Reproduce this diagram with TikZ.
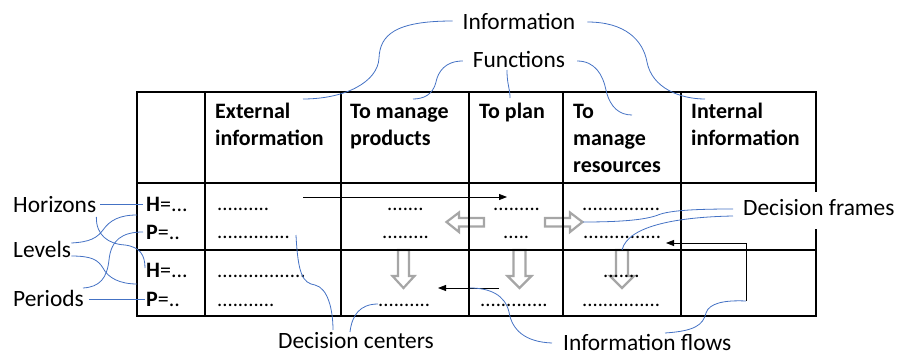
\documentclass[tikz,border=0pt]{standalone}
\usepackage{fontspec}
\setmainfont{Carlito}
\usetikzlibrary{arrows.meta}

\definecolor{calloutblue}{HTML}{4472C4}
\definecolor{flowgray}{HTML}{A6A6A6}

\begin{document}
\begin{tikzpicture}[x=1pt,y=-1pt,
  grid/.style={line width=1.6pt, black, line cap=rect},
  head/.style={font=\fontsize{22}{27}\selectfont\bfseries, align=left, anchor=north west, inner sep=0pt},
  lab/.style={font=\fontsize{23.4}{28}\selectfont, anchor=base west, inner sep=0pt},
  rowlab/.style={font=\fontsize{22}{27}\selectfont, anchor=base west, inner sep=0pt},
  dotrow/.style={font=\fontsize{20.6}{24}\selectfont, anchor=base west, inner sep=0pt},
  callout/.style={draw=calloutblue, line width=0.8pt},
  infoflow/.style={draw=black, line width=0.8pt, -{Triangle[length=8pt,width=6pt]}},
  blockarrow/.style={draw=flowgray, line width=2.2pt, fill=white, line join=miter},
]
\useasboundingbox (0,0) rectangle (898,356);

% hollow arrows between decision centres
\draw[blockarrow] (446.5,222) -- (459,212.5) -- (459,218) -- (484,218) -- (484,226.5) -- (459,226.5) -- (459,232) -- cycle;
\draw[blockarrow] (582.5,222) -- (570,212.5) -- (570,218) -- (545,218) -- (545,226.5) -- (570,226.5) -- (570,232) -- cycle;
\draw[blockarrow] (398,250) -- (398,276) -- (392.5,276) -- (403.5,288) -- (414.5,276) -- (409,276) -- (409,250) -- cycle;
\draw[blockarrow] (513.5,250) -- (513.5,276) -- (507.5,276) -- (519.5,288) -- (531.5,276) -- (525.5,276) -- (525.5,250) -- cycle;
\draw[blockarrow] (616,250) -- (616,276) -- (610,276) -- (622,288) -- (634,276) -- (628,276) -- (628,250) -- cycle;

% grid
\draw[grid] (137,92) rectangle (816,316);
\foreach \cx in {205,341,469,563,681} \draw[grid] (\cx,92) -- (\cx,316);
\draw[grid] (137,183) -- (816,183);
\draw[grid] (137,250) -- (816,250);

% column headings
\node[head] (hext) at (215,99.1) {\strut External\\\strut information};
\node[head] (hprod) at (350,99.1) {\strut To manage\\\strut products};
\node[head] (hplan) at (479,99.1) {\strut To plan};
\node[head] (hres) at (573,99.1) {\strut To\\\strut manage\\\strut resources};
\node[head] (hint) at (691,99.1) {\strut Internal\\\strut information};

% level rows
\node[rowlab] (h1) at (146,211) {\textbf{H}=...};
\node[rowlab] (p1) at (146,239) {\textbf{P}=..};
\node[rowlab] (h2) at (146,277) {\textbf{H}=...};
\node[rowlab] (p2) at (146,306) {\textbf{P}=..};

% decision centres
\node[dotrow] (d11) at (217,210) {..........};
\node[dotrow] (d12) at (387,210) {.......};
\node[dotrow] (d13) at (493,210) {.........};
\node[dotrow] (d14) at (582,210) {...............};
\node[dotrow] (d21) at (217,238) {..............};
\node[dotrow] (d22) at (382,238) {.........};
\node[dotrow] (d23) at (503,238) {.....};
\node[dotrow] (d24) at (583,238) {...............};
\node[dotrow] (d31) at (217,277) {.................};
\node[dotrow] (d34) at (603,277) {.......};
\node[dotrow] (d41) at (217,306) {...........};
\node[dotrow] (d42) at (378,306) {..........};
\node[dotrow] (d43) at (480,306) {.............};
\node[dotrow] (d44) at (582,306) {...............};

% information flows
\coordinate (fa1s) at (303,197);
\coordinate (fa1e) at (507,197);
\coordinate (fa2s) at (499,288);
\coordinate (fa2e) at (438,288);
\coordinate (fa3s) at (746,301);
\coordinate (fa3e) at (666,243);
\draw[infoflow] (fa1s) -- (fa1e);
\draw[infoflow] (fa2s) -- (fa2e);
\draw[infoflow] (fa3s) |- (fa3e);

% callout labels
\node[lab, anchor=base] (info) at (519,29) {Information};
\node[lab, anchor=base] (func) at (519,67) {Functions};
\node[lab] (hor) at (13,212) {Horizons};
\node[lab] (lev) at (13,257) {Levels};
\node[lab] (per) at (13,306) {Periods};
\node[lab] (dc) at (278,348) {Decision centers};
\node[lab] (ifl) at (563,350) {Information flows};

% callout targets
\coordinate (t-ext) at (303,99);
\coordinate (t-int) at (705,99);
\coordinate (t-prod) at (413,99);
\coordinate (t-plan) at (510,98);
\coordinate (t-res) at (632,115);
\coordinate (t-h1) at (143,204);
\coordinate (t-h2) at (145,268);
\coordinate (t-l1) at (137,215);
\coordinate (t-l2) at (137,284);
\coordinate (t-p1) at (143,232);
\coordinate (t-p2) at (145,299);
\coordinate (t-df1) at (583,222);
\coordinate (t-df2) at (622,250);
\coordinate (t-dc1) at (296,235);
\coordinate (t-dc2) at (378,304);
\coordinate (t-if1) at (470,288);

% callout curves
\draw[callout] ([shift={(-10,-8)}]info.base west) .. controls (395,21) and (380,35) .. (379,58)
  .. controls (378,82) and (345,99) .. (t-ext);
\draw[callout] ([shift={(12,-7)}]info.base east) .. controls (625,22) and (643,40) .. (647,62)
  .. controls (652,88) and (680,99) .. (t-int);
\draw[callout] ([shift={(-10,-6)}]func.base west) .. controls (445,61) and (438,72) .. (436,82)
  .. controls (433,95) and (423,99) .. (t-prod);
\draw[callout] ([shift={(-12,3)}]func.base) .. controls (507,85) and (510,88) .. (t-plan);
\draw[callout] ([shift={(12,-6)}]func.base east) .. controls (595,61) and (603,75) .. (606,90)
  .. controls (610,108) and (620,115) .. (t-res);

\draw[callout] ([shift={(4,-8)}]hor.base east) -- (t-h1);
\draw[callout] ([shift={(0,5)}]hor.base east) .. controls (96,235) and (108,244) .. (125,245)
  .. controls (140,247) and (145,255) .. (t-h2);
\draw[callout] ([shift={(0,-14)}]lev.base east) .. controls (90,242) and (97,238) .. (103,230)
  .. controls (110,220) and (120,215) .. (t-l1);
\draw[callout] ([shift={(0,-1)}]lev.base east) .. controls (92,256) and (98,260) .. (103,268)
  .. controls (108,278) and (120,284) .. (t-l2);
\draw[callout] ([shift={(-1,-18)}]per.base east) .. controls (100,287) and (107,278) .. (109,260)
  .. controls (111,240) and (122,232) .. (t-p1);
\draw[callout] ([shift={(5,-7)}]per.base east) -- (t-p2);

\draw[callout] ([shift={(55,-18)}]dc.base west) .. controls (333,310) and (328,288) .. (315,285)
  .. controls (303,283) and (298,275) .. (t-dc1);
\draw[callout] ([shift={(72,-16)}]dc.base west) .. controls (352,315) and (360,304) .. (t-dc2);

\draw[callout] ([shift={(-11,-7)}]ifl.base west) .. controls (525,342) and (512,330) .. (509,312)
  .. controls (505,295) and (490,288) .. (t-if1);
\draw[callout] ([shift={(102,-17)}]ifl.base west) .. controls (695,331) and (703,325) .. (706,313)
  .. controls (709,303) and (725,300) .. (fa3s);

% decision frames label sits over the table border
\node[lab, fill=white, inner ysep=7pt, text depth=7pt] (df) at (743,215) {Decision frames};
\draw[callout] ([shift={(-10,-6)}]df.base west) .. controls (700,209) and (670,210) .. (658,215)
  .. controls (645,220) and (620,222) .. (t-df1);
\draw[callout] ([shift={(-10,1)}]df.base west) .. controls (680,217) and (628,225) .. (t-df2);
\end{tikzpicture}
\end{document}
